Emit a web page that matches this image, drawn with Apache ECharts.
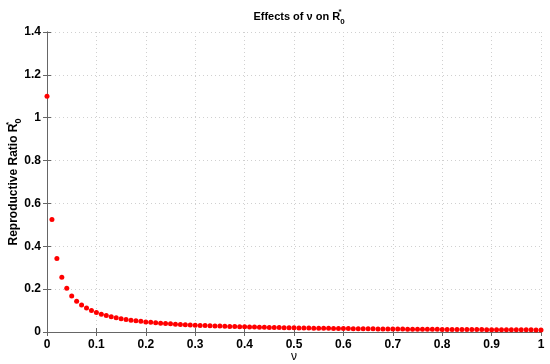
<!DOCTYPE html>
<html>
<head>
<meta charset="utf-8">
<script src="https://cdn.jsdelivr.net/npm/echarts@6/dist/echarts.min.js"></script>
<style>html,body{margin:0;padding:0;background:#fff}#c{width:550px;height:364px}</style>
</head>
<body>
<div id="c"></div>
<script>
const nu = [0,0.01,0.02,0.03,0.04,0.05,0.06,0.07,0.08,0.09,
0.10,0.11,0.12,0.13,0.14,0.15,0.16,0.17,0.18,0.19,
0.20,0.21,0.22,0.23,0.24,0.25,0.26,0.27,0.28,0.29,
0.30,0.31,0.32,0.33,0.34,0.35,0.36,0.37,0.38,0.39,
0.40,0.41,0.42,0.43,0.44,0.45,0.46,0.47,0.48,0.49,
0.50,0.51,0.52,0.53,0.54,0.55,0.56,0.57,0.58,0.59,
0.60,0.61,0.62,0.63,0.64,0.65,0.66,0.67,0.68,0.69,
0.70,0.71,0.72,0.73,0.74,0.75,0.76,0.77,0.78,0.79,
0.80,0.81,0.82,0.83,0.84,0.85,0.86,0.87,0.88,0.89,
0.90,0.91,0.92,0.93,0.94,0.95,0.96,0.97,0.98,0.99,1.00];
const R0 = [1.10,0.525,0.343,0.256,0.204,0.168,0.144,0.126,0.112,0.100,
0.0905,0.0829,0.0765,0.0710,0.0662,0.0620,0.0584,0.0551,0.0522,0.0496,
0.0472,0.0450,0.0431,0.0413,0.0396,0.0381,0.0367,0.0353,0.0341,0.0330,
0.0319,0.0309,0.0300,0.0291,0.0283,0.0275,0.0267,0.0260,0.0253,0.0247,
0.0241,0.0235,0.0230,0.0225,0.0220,0.0215,0.0210,0.0206,0.0202,0.0198,
0.0194,0.0190,0.0186,0.0183,0.0180,0.0176,0.0173,0.0170,0.0167,0.0165,
0.0162,0.0159,0.0157,0.0154,0.0152,0.0150,0.0147,0.0145,0.0143,0.0141,
0.0139,0.0137,0.0135,0.0133,0.0132,0.0130,0.0128,0.0127,0.0125,0.0123,
0.0122,0.0120,0.0119,0.0118,0.0116,0.0115,0.0113,0.0112,0.0111,0.0110,
0.0108,0.0107,0.0106,0.0105,0.0104,0.0103,0.0102,0.0101,0.0100,0.0099,0.0098];
const xTicks = [0,0.1,0.2,0.3,0.4,0.5,0.6,0.7,0.8,0.9,1];
const yTicks = [0,0.2,0.4,0.6,0.8,1,1.2,1.4];

const FONT = '"Liberation Sans", Arial, Helvetica, sans-serif';
const chart = echarts.init(document.getElementById('c'), null, {renderer:'canvas'});
const lineStyle = {color:'#666', width:1};
const gridLine = {show:true, lineStyle:{color:'#d0d0d0', type:[1,3], width:1}};
const fmt = v => String(Math.round(v*10)/10);
chart.setOption({
  animation:false,
  backgroundColor:'#fff',
  title:{
    text:'Effects of ν on R{sup|*}{sub|0}',
    left:294, top:3, textAlign:'center',
    textStyle:{fontFamily:FONT, fontSize:11, fontWeight:'bold', color:'#000', lineHeight:18,
      rich:{
        sup:{fontFamily:FONT, fontSize:8, fontWeight:'bold', verticalAlign:'top', width:0, lineHeight:18},
        sub:{fontFamily:FONT, fontSize:8, fontWeight:'bold', verticalAlign:'bottom', lineHeight:18}
      }}
  },
  grid:{left:47, right:9, top:32, bottom:32, containLabel:false, outerBoundsMode:'none'},
  xAxis:[{
    type:'value', min:0, max:1, interval:0.1,
    axisLine:{show:true, lineStyle}, axisTick:{show:true, inside:true, length:4, lineStyle},
    axisLabel:{fontFamily:FONT, fontSize:12, fontWeight:'bold', color:'#000', margin:7, formatter:fmt},
    splitLine:gridLine,
    name:'ν', nameLocation:'middle', nameGap:19, nameMoveOverlap:false,
    nameTextStyle:{fontFamily:FONT, fontSize:12, color:'#000'}
  },{
    type:'value', min:0, max:1, interval:0.1, position:'top',
    axisLine:{show:true, lineStyle}, axisTick:{show:true, inside:true, length:4, lineStyle},
    axisLabel:{show:false}, splitLine:{show:false}
  }],
  yAxis:[{
    type:'value', min:0, max:1.4, interval:0.2,
    axisLine:{show:true, lineStyle}, axisTick:{show:true, inside:true, length:4, lineStyle},
    axisLabel:{fontFamily:FONT, fontSize:12, fontWeight:'bold', color:'#000', margin:6, formatter:fmt},
    splitLine:gridLine,
    name:'Reproductive Ratio R{sup|*}{sub|0}', nameLocation:'middle', nameGap:24, nameRotate:90, nameMoveOverlap:false,
    nameTextStyle:{fontFamily:FONT, fontSize:12, fontWeight:'bold', color:'#000', lineHeight:18,
      rich:{
        sup:{fontFamily:FONT, fontSize:8, fontWeight:'bold', verticalAlign:'top', width:0, lineHeight:18},
        sub:{fontFamily:FONT, fontSize:9, fontWeight:'bold', verticalAlign:'bottom', lineHeight:18}
      }}
  },{
    type:'value', min:0, max:1.4, interval:0.2, position:'right',
    axisLine:{show:true, lineStyle}, axisTick:{show:true, inside:true, length:4, lineStyle},
    axisLabel:{show:false}, splitLine:{show:false}
  }],
  series:[{
    type:'scatter', xAxisIndex:0, yAxisIndex:0,
    data: nu.map((x,i)=>[x, R0[i]]),
    symbol:'circle', symbolSize:5,
    itemStyle:{color:'#ff0000', opacity:1},
    clip:false
  }]
});
</script>
</body>
</html>
